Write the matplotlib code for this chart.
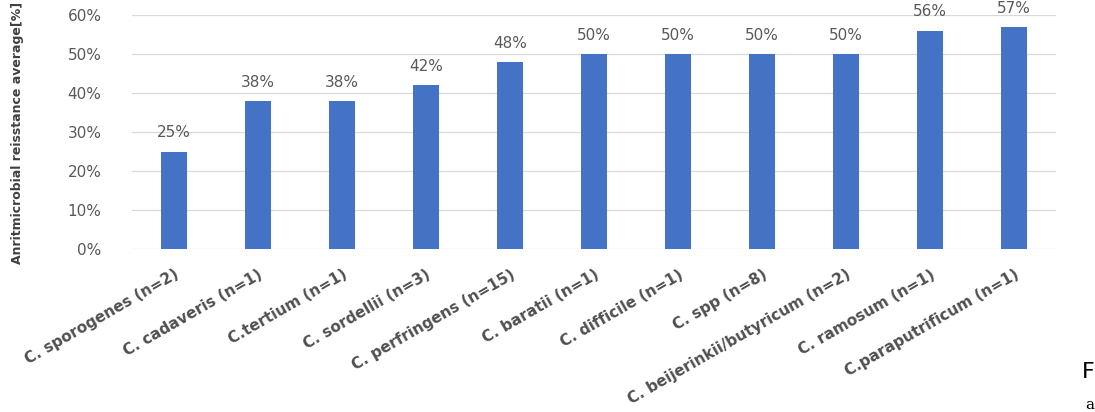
import numpy as np
import matplotlib
matplotlib.use('Agg')
import matplotlib.pyplot as plt
from matplotlib.ticker import MultipleLocator, PercentFormatter

# data
species = ['C. sporogenes (n=2)', 'C. cadaveris (n=1)', 'C.tertium (n=1)',
           'C. sordellii (n=3)', 'C. perfringens (n=15)', 'C. baratii (n=1)',
           'C. difficile (n=1)', 'C. spp (n=8)', 'C. beijerinkii/butyricum (n=2)',
           'C. ramosum (n=1)', 'C.paraputrificum (n=1)']
resistance = [25, 38, 38, 42, 48, 50, 50, 50, 50, 56, 57]

fig = plt.figure(figsize=(10.95, 4.12), dpi=100)
ax = fig.add_axes([0.1205, 0.3956, 0.8439, 0.568])

x = np.arange(len(species))
bars = ax.bar(x, resistance, width=0.31, color='#4472C4', zorder=3)

for b, v in zip(bars, resistance):
    ax.annotate(f'{v}%', (b.get_x() + b.get_width() / 2, v), xytext=(0, 8),
                textcoords='offset points', ha='center', va='bottom',
                fontsize=11, color='#595959')

ax.set_xlim(-0.5, len(species) - 0.5)
ax.set_ylim(0, 60)
ax.yaxis.set_major_locator(MultipleLocator(10))
ax.yaxis.set_major_formatter(PercentFormatter(decimals=0))
ax.grid(axis='y', color='#d9d9d9', linewidth=0.9, zorder=0)
for s in ax.spines.values():
    s.set_visible(False)
ax.tick_params(axis='both', length=0)
ax.tick_params(axis='y', labelsize=11, labelcolor='#595959', pad=22)

ax.set_xticks(x)
ax.set_xticklabels(species, rotation=30, ha='right', rotation_mode='anchor',
                   fontsize=11, color='#505050', fontweight='semibold')
ax.tick_params(axis='x', pad=13)

fig.text(0.016, 0.677, 'Anritmicrobial reisstance average[%]', rotation=90,
         ha='center', va='center', fontsize=9, fontweight='bold',
         color='#404040')

# stray text from the surrounding page, right edge
fig.text(0.9995, 0.097, 'F', fontsize=16, color='black', ha='right', va='center')
fig.text(0.9995, 0.018, 'a', fontsize=11, family='DejaVu Serif', color='black',
         ha='right', va='center')

fig.savefig('out.png', dpi=100)
